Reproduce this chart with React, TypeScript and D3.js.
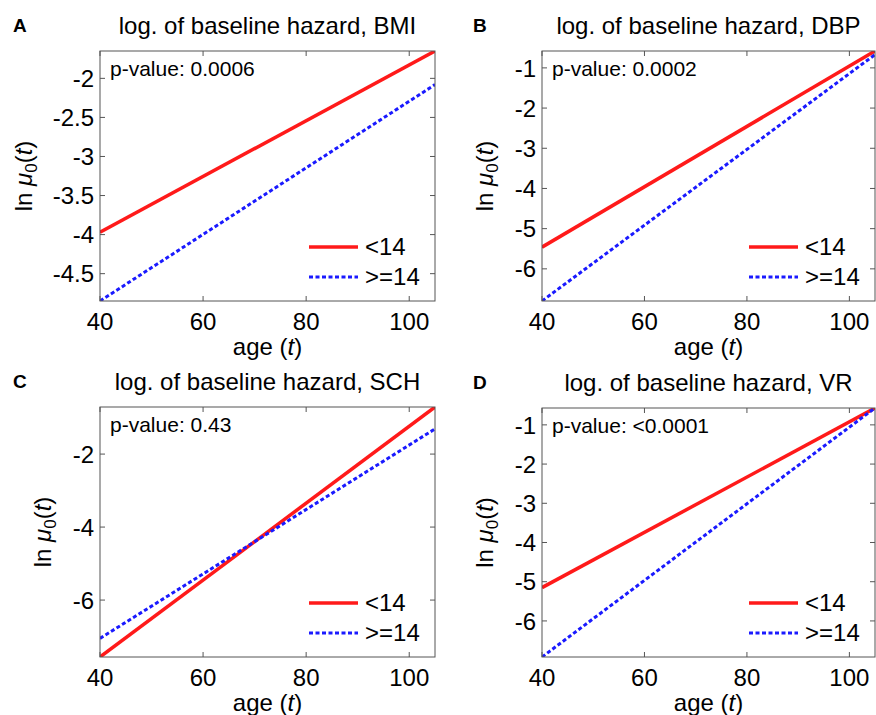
import React from "react";
import * as d3 from "d3";

// age range shown on every panel (axis tight in the original)
const ages = [40, 105];
const xTicks = [40, 60, 80, 100];

const panelLetters = ["A", "B", "C", "D"];
const titles = [
  "log. of baseline hazard, BMI",
  "log. of baseline hazard, DBP",
  "log. of baseline hazard, SCH",
  "log. of baseline hazard, VR",
];
const pValues = ["0.0006", "0.0002", "0.43", "<0.0001"];
const legendLabels = ["<14", ">=14"];

// ln mu0(t) at ages 40 and 105
const lowBMI = [-3.97, -1.65];
const highBMI = [-4.85, -2.08];
const lowDBP = [-5.46, -0.58];
const highDBP = [-6.8, -0.67];
const lowSCH = [-7.56, -0.71];
const highSCH = [-7.05, -1.31];
const lowVR = [-5.15, -0.57];
const highVR = [-6.92, -0.57];

const yTicksBMI = [-4.5, -4, -3.5, -3, -2.5, -2];
const yTicksDBP = [-6, -5, -4, -3, -2, -1];
const yTicksSCH = [-6, -4, -2];
const yTicksVR = [-6, -5, -4, -3, -2, -1];

const lowSeries = [lowBMI, lowDBP, lowSCH, lowVR];
const highSeries = [highBMI, highDBP, highSCH, highVR];
const yTickSets = [yTicksBMI, yTicksDBP, yTicksSCH, yTicksVR];

// layout
const W = 876;
const H = 715;
const boxes = [
  { left: 100, top: 51, right: 435, bottom: 301, letterX: 13 },
  { left: 542, top: 51, right: 875, bottom: 301, letterX: 473 },
  { left: 100, top: 407, right: 435, bottom: 657, letterX: 13 },
  { left: 542, top: 408, right: 875, bottom: 657, letterX: 473 },
];

const FONT = "'Liberation Sans', Arial, Helvetica, sans-serif";
const RED = "#ff1a1a";
const BLUE = "#1a1aff";
const FRAME = "#555";
const TICK = 5;
const FS = 24;

type Pt = [number, number];

const Panel = ({ i }: { i: number }) => {
  const b = boxes[i];
  const low = lowSeries[i];
  const high = highSeries[i];
  const yTicks = yTickSets[i];

  const x = d3.scaleLinear().domain(ages).range([b.left, b.right]);
  const yExt = d3.extent([...low, ...high]) as [number, number];
  const y = d3.scaleLinear().domain(yExt).range([b.bottom, b.top]);

  const line = d3
    .line<Pt>()
    .x((d) => x(d[0]))
    .y((d) => y(d[1]));
  const pts = (vals: number[]): Pt[] => ages.map((a, k) => [a, vals[k]]);

  const fmt = (v: number) => String(v);
  const maxLen = d3.max(yTicks, (t) => fmt(t).length) || 2;
  const ylabX = b.left - (30 + 9.5 * maxLen);
  const cx = (b.left + b.right) / 2;
  const cy = (b.top + b.bottom) / 2;
  const clipId = `clip-${i}`;

  return (
    <g>
      <defs>
        <clipPath id={clipId}>
          <rect x={b.left} y={b.top} width={b.right - b.left} height={b.bottom - b.top} />
        </clipPath>
      </defs>

      <text x={b.letterX} y={b.top - 19} fontSize={19} fontWeight="bold" fontFamily={FONT}>
        {panelLetters[i]}
      </text>
      <text x={cx} y={b.top - 17} fontSize={24} textAnchor="middle" fontFamily={FONT}>
        {titles[i]}
      </text>

      <g clipPath={`url(#${clipId})`}>
        <path d={line(pts(low)) || ""} fill="none" stroke={RED} strokeWidth={3.5} />
        <path
          d={line(pts(high)) || ""}
          fill="none"
          stroke={BLUE}
          strokeWidth={3}
          strokeDasharray="4 2.5"
        />
      </g>

      <rect
        x={b.left}
        y={b.top}
        width={b.right - b.left}
        height={b.bottom - b.top}
        fill="none"
        stroke={FRAME}
        strokeWidth={1}
      />

      {xTicks.map((t) => (
        <g key={`x${t}`}>
          <line x1={x(t)} x2={x(t)} y1={b.bottom} y2={b.bottom - TICK} stroke={FRAME} />
          <line x1={x(t)} x2={x(t)} y1={b.top} y2={b.top + TICK} stroke={FRAME} />
          <text x={x(t)} y={b.bottom + 29} fontSize={FS} textAnchor="middle" fontFamily={FONT}>
            {t}
          </text>
        </g>
      ))}
      {yTicks.map((t) => (
        <g key={`y${t}`}>
          <line x1={b.left} x2={b.left + TICK} y1={y(t)} y2={y(t)} stroke={FRAME} />
          <line x1={b.right} x2={b.right - TICK} y1={y(t)} y2={y(t)} stroke={FRAME} />
          <text
            x={b.left - 6}
            y={y(t)}
            dy="0.36em"
            fontSize={FS}
            textAnchor="end"
            fontFamily={FONT}
          >
            {fmt(t)}
          </text>
        </g>
      ))}

      <text x={cx} y={b.bottom + 54} fontSize={FS} textAnchor="middle" fontFamily={FONT}>
        age (<tspan fontStyle="italic">t</tspan>)
      </text>
      <text
        transform={`translate(${ylabX},${cy}) rotate(-90)`}
        fontSize={FS}
        textAnchor="middle"
        fontFamily={FONT}
      >
        ln <tspan fontStyle="italic">μ</tspan>
        <tspan fontSize={17} dy={5}>0</tspan>
        <tspan dy={-5}>(</tspan>
        <tspan fontStyle="italic">t</tspan>)
      </text>

      <text x={b.left + 10} y={b.top + 25} fontSize={21} fontFamily={FONT}>
        p-value: {pValues[i]}
      </text>

      {legendLabels.map((lab, k) => {
        const ly = b.bottom - 54 + k * 30;
        return (
          <g key={lab}>
            <line
              x1={b.right - 126}
              x2={b.right - 77}
              y1={ly}
              y2={ly}
              stroke={k === 0 ? RED : BLUE}
              strokeWidth={k === 0 ? 3.5 : 3}
              strokeDasharray={k === 0 ? undefined : "4 2.5"}
            />
            <text x={b.right - 70} y={ly + 8} fontSize={FS} fontFamily={FONT}>
              {lab}
            </text>
          </g>
        );
      })}
    </g>
  );
};

export default function App() {
  return (
    <svg
      width={W}
      height={H}
      style={{ position: "absolute", left: 0, top: 0, background: "#fff" }}
    >
      <rect width={W} height={H} fill="#fff" />
      {boxes.map((_, i) => (
        <Panel key={i} i={i} />
      ))}
    </svg>
  );
}
